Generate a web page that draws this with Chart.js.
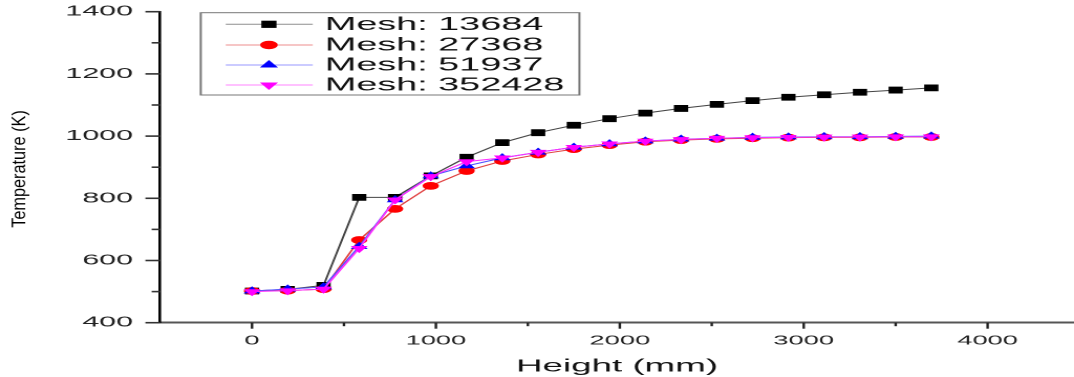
<!DOCTYPE html>
<html>
<head>
<meta charset="utf-8">
<script src="https://cdn.jsdelivr.net/npm/chart.js@4.4.1/dist/chart.umd.min.js"></script>
<style>
    html, body { margin: 0; padding: 0; background: #fff; overflow: hidden; }
    /* the original figure is stretched sideways, so the chart is drawn narrow and widened */
    #wrap { position: absolute; left: 0; top: 0; width: 512px; height: 377px; transform: scaleX(2.0977); transform-origin: 0 0; }
</style>
</head>
<body>
<div id="wrap"><canvas id="meshChart"></canvas></div>
<script>
// Heights along the column (mm)
const heights = [0, 194, 389, 583, 778, 972, 1167, 1361, 1556, 1750, 1944, 2139, 2333, 2528, 2722, 2917, 3111, 3306, 3500, 3694];

// Temperature (K) for each mesh
const mesh13684 = [502, 507, 520, 803, 803, 872, 932, 979, 1011, 1035, 1056, 1074, 1089, 1102, 1114, 1125, 1133, 1141, 1148, 1155];
const mesh27368 = [502, 503, 508, 666, 766, 840, 888, 920, 941, 958, 971, 982, 987, 991, 993, 995, 996, 996, 997, 997];
const mesh51937 = [502, 508, 515, 645, 795, 872, 904, 930, 948, 964, 975, 984, 990, 993, 996, 997, 998, 998, 999, 1000];
const mesh352428 = [500, 503, 508, 639, 795, 870, 918, 930, 948, 964, 975, 984, 989, 993, 995, 996, 997, 997, 998, 998];

const seriesLabels = ['Mesh: 13684', 'Mesh: 27368', 'Mesh: 51937', 'Mesh: 352428'];

// major (labelled) and minor ticks
const yTicks = [400, 600, 800, 1000, 1200, 1400];
const xTicks = [0, 1000, 2000, 3000, 4000];
const xTickValues = [0, 500, 1000, 1500, 2000, 2500, 3000, 3500, 4000];

const STRETCH = 2.0977;
const FONT = '"Liberation Sans", Arial, sans-serif';

const STYLES = [
    { line: '#444444', point: '#000000', style: 'rect', radius: 4.8, rotation: 0 },
    { line: '#e04040', point: '#ff0000', style: 'circle', radius: 3.9, rotation: 0 },
    { line: '#5050ff', point: '#0000ff', style: 'triangle', radius: 4.7, rotation: 0 },
    { line: '#ff30ff', point: '#ff00ff', style: 'triangle', radius: 4.7, rotation: 180 }
];

function makeDataset(label, values, st, order) {
    return {
        label: label,
        data: heights.map((h, i) => ({ x: h, y: values[i] })),
        borderColor: st.line,
        borderWidth: 1,
        backgroundColor: st.point,
        pointBackgroundColor: st.point,
        pointBorderColor: st.point,
        pointBorderWidth: 0,
        pointStyle: st.style,
        pointRotation: st.rotation,
        pointRadius: st.radius,
        tension: 0,
        order: order
    };
}

/**
 * Tick marks (major and minor) on the outside of both axes
 */
const tickMarks = {
    id: 'tickMarks',
    afterDraw(chart) {
        const ctx = chart.ctx;
        const area = chart.chartArea;
        const ys = chart.scales.y;
        const xs = chart.scales.x;
        ctx.save();
        ctx.strokeStyle = '#333';
        ctx.lineWidth = 1.6;
        ys.ticks.forEach(t => {
            const py = ys.getPixelForValue(t.value);
            const len = yTicks.includes(t.value) ? 7 : 4;
            ctx.beginPath();
            ctx.moveTo(area.left - len, py);
            ctx.lineTo(area.left, py);
            ctx.stroke();
        });
        ctx.strokeStyle = '#222';
        ctx.lineWidth = 1.2;
        xTickValues.forEach(v => {
            const px = xs.getPixelForValue(v);
            const len = xTicks.includes(v) ? 6 : 3.5;
            ctx.beginPath();
            ctx.moveTo(px, area.bottom);
            ctx.lineTo(px, area.bottom + len);
            ctx.stroke();
        });
        ctx.restore();
    }
};

/**
 * Boxed legend with line + marker samples, and the upright y title
 */
const boxLegend = {
    id: 'boxLegend',
    afterDraw(chart) {
        const ctx = chart.ctx;
        ctx.save();
        ctx.strokeStyle = '#777';
        ctx.lineWidth = 1;
        ctx.strokeRect(95.7, 12.7, 180.5, 82.3);
        const rows = [24.3, 45, 65, 85];
        chart.data.datasets.forEach((ds, i) => {
            const y = rows[i];
            ctx.strokeStyle = ds.borderColor;
            ctx.globalAlpha = 0.6;
            ctx.lineWidth = 1;
            ctx.beginPath();
            ctx.moveTo(107.6, y);
            ctx.lineTo(149.1, y);
            ctx.stroke();
            ctx.globalAlpha = 1;
            ctx.fillStyle = ds.pointBackgroundColor;
            ctx.strokeStyle = ds.pointBackgroundColor;
            Chart.helpers.drawPoint(ctx, {
                pointStyle: ds.pointStyle,
                rotation: ds.pointRotation,
                radius: ds.pointRadius + 0.3,
                borderWidth: 0
            }, 128.2, y);
            ctx.fillStyle = '#111';
            ctx.font = '18px ' + FONT;
            ctx.textAlign = 'left';
            ctx.textBaseline = 'middle';
            ctx.fillText(ds.label, 154.9, y + 0.5);
        });

        // y title is not stretched in the original, undo the widening
        ctx.translate(9.4, 169);
        ctx.scale(1 / STRETCH, 1);
        ctx.rotate(-Math.PI / 2);
        ctx.scale(0.88, 1);
        ctx.fillStyle = '#000';
        ctx.font = '18.5px ' + FONT;
        ctx.textAlign = 'center';
        ctx.textBaseline = 'middle';
        ctx.fillText('Temperature (K)', 0, 0);
        ctx.restore();
    }
};

const chart = new Chart(document.getElementById('meshChart'), {
    type: 'line',
    data: {
        datasets: [
            makeDataset(seriesLabels[0], mesh13684, STYLES[0], 4),
            makeDataset(seriesLabels[1], mesh27368, STYLES[1], 3),
            makeDataset(seriesLabels[2], mesh51937, STYLES[2], 2),
            makeDataset(seriesLabels[3], mesh352428, STYLES[3], 1)
        ]
    },
    options: {
        responsive: true,
        maintainAspectRatio: false,
        devicePixelRatio: 2,
        animation: false,
        layout: { autoPadding: false, padding: { top: 11.7, right: 0, bottom: 0, left: 0 } },
        plugins: {
            legend: { display: false },
            tooltip: { enabled: false }
        },
        scales: {
            x: {
                type: 'linear',
                min: -500,
                max: 4470,
                afterBuildTicks: scale => {
                    scale.ticks = xTicks.map(v => ({ value: v }));
                },
                afterFit: scale => { scale.height = 54.3; },
                ticks: {
                    autoSkip: false,
                    maxRotation: 0,
                    minRotation: 0,
                    padding: 0,
                    color: '#222',
                    font: { family: FONT, size: 13 },
                    callback: v => String(v)
                },
                grid: {
                    display: true,
                    drawOnChartArea: false,
                    drawTicks: true,
                    tickLength: 10.5,
                    color: 'rgba(0,0,0,0)',
                    tickColor: 'rgba(0,0,0,0)'
                },
                border: { display: true, color: '#555', width: 2 },
                title: {
                    display: true,
                    text: 'Height (mm)',
                    color: '#111',
                    font: { family: FONT, size: 17.5 },
                    padding: { top: 4, bottom: 0 }
                }
            },
            y: {
                type: 'linear',
                min: 400,
                max: 1400,
                afterFit: scale => { scale.width = 76.3; },
                ticks: {
                    stepSize: 100,
                    autoSkip: false,
                    padding: 0,
                    color: '#222',
                    font: { family: FONT, size: 14.5 },
                    callback: v => (yTicks.includes(v) ? String(v) : '')
                },
                grid: {
                    display: true,
                    drawOnChartArea: false,
                    drawTicks: true,
                    tickLength: 12.9,
                    color: 'rgba(0,0,0,0)',
                    tickColor: 'rgba(0,0,0,0)'
                },
                border: { display: true, color: '#000', width: 1.3 },
                title: { display: false }
            }
        }
    },
    plugins: [tickMarks, boxLegend]
});
</script>
</body>
</html>
